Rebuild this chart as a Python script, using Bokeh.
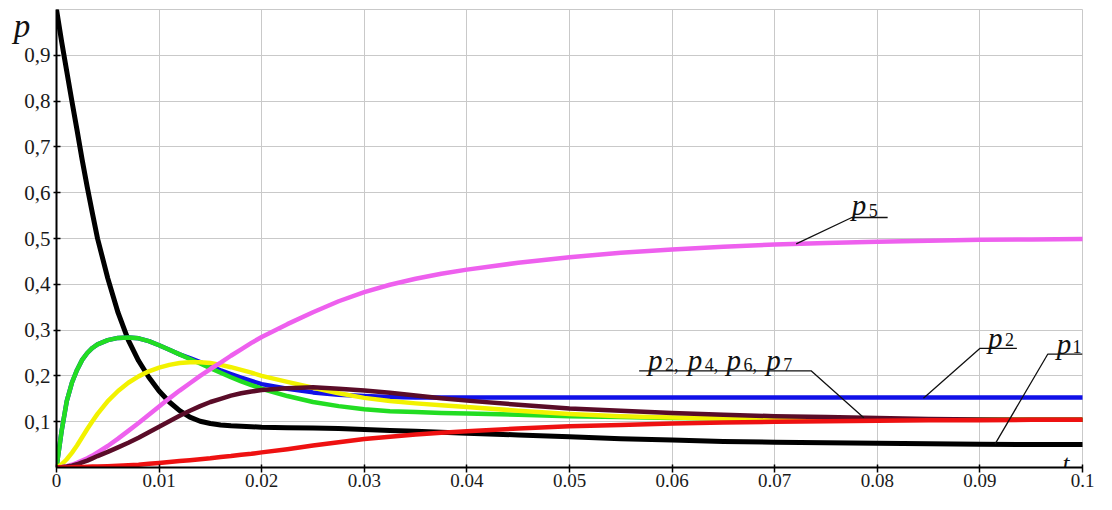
from bokeh.plotting import figure
from bokeh.models import FixedTicker, Range1d
from bokeh.core.properties import value
from bokeh.embed import file_html
from bokeh.resources import INLINE

# ---------------- data ----------------
t = [0, 0.0005, 0.001, 0.0015, 0.002, 0.0025, 0.003, 0.0035, 0.004,
     0.005, 0.006, 0.007, 0.008, 0.009, 0.01, 0.011, 0.012, 0.013, 0.014, 0.015,
     0.016, 0.017, 0.018, 0.019, 0.02,
     0.0225, 0.025, 0.0275, 0.03, 0.0325, 0.035, 0.0375, 0.04,
     0.045, 0.05, 0.055, 0.06, 0.065, 0.07, 0.075, 0.08, 0.085, 0.09, 0.095, 0.1]

p3_black = [1.0, 0.93, 0.865, 0.8, 0.737, 0.672, 0.612, 0.555, 0.5,
            0.413, 0.338, 0.278, 0.233, 0.197, 0.167, 0.143, 0.124, 0.11, 0.101, 0.096,
            0.093, 0.091, 0.09, 0.089, 0.088,
            0.087, 0.086, 0.085, 0.083, 0.081, 0.079, 0.077, 0.075,
            0.071, 0.067, 0.063, 0.06, 0.057, 0.055, 0.054, 0.053, 0.052, 0.051, 0.05, 0.05]

p_green = [0, 0.08, 0.145, 0.185, 0.213, 0.235, 0.25, 0.261, 0.269,
           0.278, 0.283, 0.284, 0.282, 0.276, 0.267, 0.257, 0.247, 0.237, 0.227, 0.217,
           0.207, 0.197, 0.188, 0.18, 0.172,
           0.156, 0.143, 0.134, 0.127, 0.123, 0.121, 0.119, 0.118,
           0.115, 0.112, 0.11, 0.108, 0.107, 0.106, 0.105, 0.105, 0.104, 0.104, 0.104, 0.104]

p2_blue = [0, 0.08, 0.145, 0.185, 0.213, 0.235, 0.25, 0.261, 0.269,
           0.278, 0.283, 0.284, 0.282, 0.276, 0.267, 0.257, 0.247, 0.239, 0.23, 0.221,
           0.212, 0.204, 0.196, 0.189, 0.182,
           0.172, 0.164, 0.159, 0.156, 0.154, 0.153, 0.153, 0.153,
           0.153, 0.153, 0.153, 0.153, 0.153, 0.153, 0.153, 0.153, 0.153, 0.153, 0.153, 0.153]

p_yellow = [0, 0.007, 0.018, 0.032, 0.048, 0.066, 0.084, 0.101, 0.117,
            0.145, 0.167, 0.185, 0.199, 0.21, 0.218, 0.224, 0.228, 0.23, 0.23, 0.228,
            0.224, 0.219, 0.213, 0.207, 0.2,
            0.187, 0.174, 0.162, 0.152, 0.145, 0.14, 0.136, 0.132,
            0.124, 0.117, 0.112, 0.109, 0.107, 0.106, 0.105, 0.105, 0.104, 0.104, 0.104, 0.104]

p_maroon = [0, 0.0005, 0.002, 0.004, 0.007, 0.011, 0.015, 0.02, 0.025,
            0.034, 0.044, 0.054, 0.065, 0.077, 0.089, 0.101, 0.113, 0.124, 0.134, 0.143,
            0.15, 0.157, 0.162, 0.166, 0.169,
            0.173, 0.175, 0.172, 0.168, 0.163, 0.157, 0.151, 0.146,
            0.137, 0.129, 0.124, 0.119, 0.115, 0.112, 0.11, 0.108, 0.106, 0.105, 0.104, 0.104]

p5_magenta = [0, 0.001, 0.003, 0.006, 0.01, 0.015, 0.02, 0.026, 0.033,
              0.047, 0.063, 0.08, 0.097, 0.115, 0.133, 0.151, 0.168, 0.184, 0.2, 0.215,
              0.229, 0.244, 0.258, 0.272, 0.285,
              0.313, 0.339, 0.363, 0.383, 0.399, 0.412, 0.423, 0.432,
              0.447, 0.459, 0.469, 0.476, 0.482, 0.487, 0.49, 0.493, 0.495, 0.497, 0.498, 0.499]

p1_red = [0, 0, 0, 0.0005, 0.001, 0.001, 0.0015, 0.002, 0.002,
          0.003, 0.004, 0.005, 0.006, 0.008, 0.01, 0.012, 0.014, 0.016, 0.018, 0.02,
          0.023, 0.025, 0.028, 0.03, 0.033,
          0.04, 0.048, 0.055, 0.062, 0.067, 0.072, 0.076, 0.079,
          0.085, 0.09, 0.093, 0.096, 0.098, 0.1, 0.101, 0.102, 0.103, 0.103, 0.104, 0.104]

x_ticks = [0, 0.01, 0.02, 0.03, 0.04, 0.05, 0.06, 0.07, 0.08, 0.09, 0.1]
x_tick_labels = ["0", "0.01", "0.02", "0.03", "0.04", "0.05", "0.06", "0.07", "0.08", "0.09", "0.1"]
y_ticks = [0.1, 0.2, 0.3, 0.4, 0.5, 0.6, 0.7, 0.8, 0.9]
y_tick_labels = ["0,1", "0,2", "0,3", "0,4", "0,5", "0,6", "0,7", "0,8", "0,9"]

# ---------------- figure ----------------
SERIF = "Liberation Serif"
GRID = "#c9c9c9"

p = figure(width=1096, height=494, x_range=Range1d(0, 0.1), y_range=Range1d(0, 1.0),
           output_backend="svg", toolbar_location=None,
           min_border_left=56, min_border_right=14, min_border_top=9, min_border_bottom=27)
p.background_fill_color = "white"
p.border_fill_color = "white"
p.outline_line_color = GRID
p.outline_line_width = 1

p.xaxis.ticker = FixedTicker(ticks=x_ticks)
p.xaxis.major_label_overrides = dict(zip(x_ticks, x_tick_labels))
p.yaxis.ticker = FixedTicker(ticks=y_ticks)
p.yaxis.major_label_overrides = dict(zip(y_ticks, y_tick_labels))

for ax in (p.xaxis, p.yaxis):
    ax.axis_line_color = "black"
    ax.axis_line_width = 2
    ax.major_tick_line_color = "black"
    ax.major_tick_line_width = 1.5
    ax.minor_tick_line_color = None
    ax.major_label_text_font = SERIF
    ax.major_label_text_color = "#1a1a1a"

p.xaxis.major_tick_in = 3
p.xaxis.major_tick_out = 5
p.xaxis.major_label_standoff = 1
p.xaxis.major_label_text_font_size = "19px"
p.yaxis.major_tick_in = 4
p.yaxis.major_tick_out = 3
p.yaxis.major_label_standoff = 3
p.yaxis.major_label_text_font_size = "21px"

# the italic "p" at the top end of the value axis (second line, so it sits below the frame top)
p.yaxis.axis_label = "\np"
p.yaxis.axis_label_text_font = SERIF
p.yaxis.axis_label_text_font_style = "italic"
p.yaxis.axis_label_text_font_size = "33px"
p.yaxis.axis_label_text_line_height = 0.9
p.yaxis.axis_label_text_color = "#111111"
p.yaxis.axis_label_orientation = "horizontal"
p.yaxis.axis_label_align = "end"
p.yaxis.axis_label_standoff = -9

p.xgrid.grid_line_color = GRID
p.ygrid.grid_line_color = GRID
p.xgrid.grid_line_width = 1
p.ygrid.grid_line_width = 1

# ---------------- curves ----------------
series = [
    (p3_black, "#000000", 5),
    (p2_blue, "#1010e8", 4.5),
    (p_green, "#22dd22", 4.5),
    (p_yellow, "#f2f200", 4.5),
    (p5_magenta, "#ee60ee", 4.5),
    (p_maroon, "#5a0c28", 4.5),
    (p1_red, "#ee1111", 4.5),
]
for ys, col, w in series:
    p.line(t, ys, line_color=col, line_width=w, line_join="round", line_cap="round")

# ---------------- annotations (leader lines and labels) ----------------
def dx(px):
    return (px - 56) / (1088 - 56) * 0.1

def dy(py):
    return (478 - py) / (478 - 9)

leaders = [
    [(800, 249), (856, 222), (892, 222)],             # p5
    [(868, 427), (815, 379), (642, 379)],             # p2,p4,p6,p7
    [(928, 407), (985, 356), (1022, 356)],            # p2
    [(1000, 454), (1053, 362), (1088, 362)],          # p1
]
p.multi_line(xs=[[dx(a) for a, b in L] for L in leaders],
             ys=[[dy(b) for a, b in L] for L in leaders],
             line_color="#111111", line_width=1.3)

# italic "p" letters
p_letters = [(856, 209), (993, 345), (1062, 352), (651, 368), (691, 368), (730, 368), (770, 368)]
p.text(x=[dx(a) for a, b in p_letters], y=[dy(b) for a, b in p_letters],
       text=["p"] * len(p_letters), text_font=value(SERIF), text_font_style="italic",
       text_font_size="29px", text_baseline="alphabetic", text_align="left", text_color="#111111")

# subscripts
subs = [(873, 215, "5"), (1010, 347, "2"), (1078, 354, "1"),
        (668, 373, "2,"), (708, 373, "4,"), (747, 373, "6,"), (787, 373, "7")]
p.text(x=[dx(a) for a, b, s in subs], y=[dy(b) for a, b, s in subs],
       text=[s for a, b, s in subs], text_font=value(SERIF),
       text_font_size="18px", text_baseline="alphabetic", text_align="left", text_color="#111111")

# "t" on the time axis
p.text(x=[dx(1068)], y=[dy(474)], text=["t"], text_font=value(SERIF), text_font_style="italic",
       text_font_size="25px", text_baseline="alphabetic", text_align="left", text_color="#111111")

open("out.html", "w").write(file_html(p, INLINE))
